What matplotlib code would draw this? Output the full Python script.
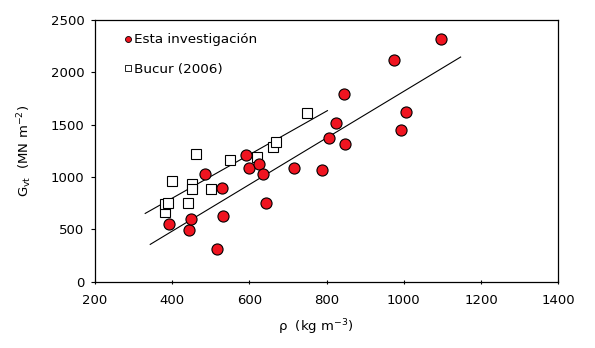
import matplotlib
matplotlib.use("Agg")
import matplotlib.pyplot as plt
from matplotlib.lines import Line2D
import numpy as np

plt.rcParams['font.family'] = ['DejaVu Sans']

# Esta investigación: densidad (kg m-3) y módulo de cortante G_vt (MN m-2)
rho_inv = [392, 443, 449, 485, 515, 530, 531, 590, 599, 624, 635, 642,
           715, 788, 807, 824, 845, 847, 974, 992, 1006, 1096]
g_inv = [553, 496, 595, 1030, 315, 897, 630, 1212, 1091, 1129, 1030, 754,
         1091, 1069, 1374, 1514, 1791, 1317, 2115, 1450, 1622, 2318]

# Bucur (2006)
rho_bucur = [380, 382, 388, 399, 440, 450, 451, 461, 501, 550, 619, 661, 668, 749]
g_bucur = [662, 741, 751, 964, 754, 935, 884, 1221, 887, 1161, 1187, 1288, 1339, 1609]

# Rectas de ajuste: pendiente, ordenada y rango de densidad
fit_inv = dict(slope=2.226, intercept=-407, x0=343, x1=1147)
fit_bucur = dict(slope=2.08, intercept=-34, x0=330, x1=802)

x_ticks = [200, 400, 600, 800, 1000, 1200, 1400]
y_ticks = [0, 500, 1000, 1500, 2000, 2500]

red = '#f01420'

fig = plt.figure(figsize=(5.95, 3.48), dpi=100)
ax = fig.add_axes([0.1597, 0.1905, 0.7786, 0.752])

for fit in (fit_inv, fit_bucur):
    xs = np.array([fit['x0'], fit['x1']])
    ax.plot(xs, fit['slope'] * xs + fit['intercept'], color='black', lw=0.8, zorder=2)

ax.plot(rho_bucur, g_bucur, ls='none', marker='s', ms=7.3, mfc='white',
        mec='black', mew=0.8, zorder=3)
ax.plot(rho_inv, g_inv, ls='none', marker='o', ms=8.0, mfc=red,
        mec='black', mew=0.8, zorder=4)

ax.set_xlim(200, 1400)
ax.set_ylim(0, 2500)
ax.set_xticks(x_ticks)
ax.set_yticks(y_ticks)
ax.tick_params(axis='x', direction='inout', length=3, width=0.8, labelsize=9.5, pad=7.5)
ax.tick_params(axis='y', direction='out', length=3.2, width=0.8, labelsize=9.5, pad=4.5)
for s in ax.spines.values():
    s.set_linewidth(0.9)

ax.set_xlabel(r'ρ  (kg m$^{\mathregular{-3}}$)', fontsize=9.5)
ax.xaxis.set_label_coords(0.477, -0.135)
ax.set_ylabel(r'G$_{\mathregular{vt}}$  (MN m$^{\mathregular{-2}}$)', fontsize=9.5, labelpad=12)

handles = [
    Line2D([], [], ls='none', marker='o', ms=4.3, mfc=red, mec='black', mew=0.6),
    Line2D([], [], ls='none', marker='s', ms=4.0, mfc='white', mec='black', mew=0.6),
]
ax.legend(handles, ['Esta investigación', 'Bucur (2006)'], loc='upper left',
          bbox_to_anchor=(0.043, 0.985), frameon=False, fontsize=9.7,
          handlelength=0.5, handletextpad=0.25, labelspacing=1.2, borderaxespad=0.3)

fig.savefig('out.png', dpi=100)
